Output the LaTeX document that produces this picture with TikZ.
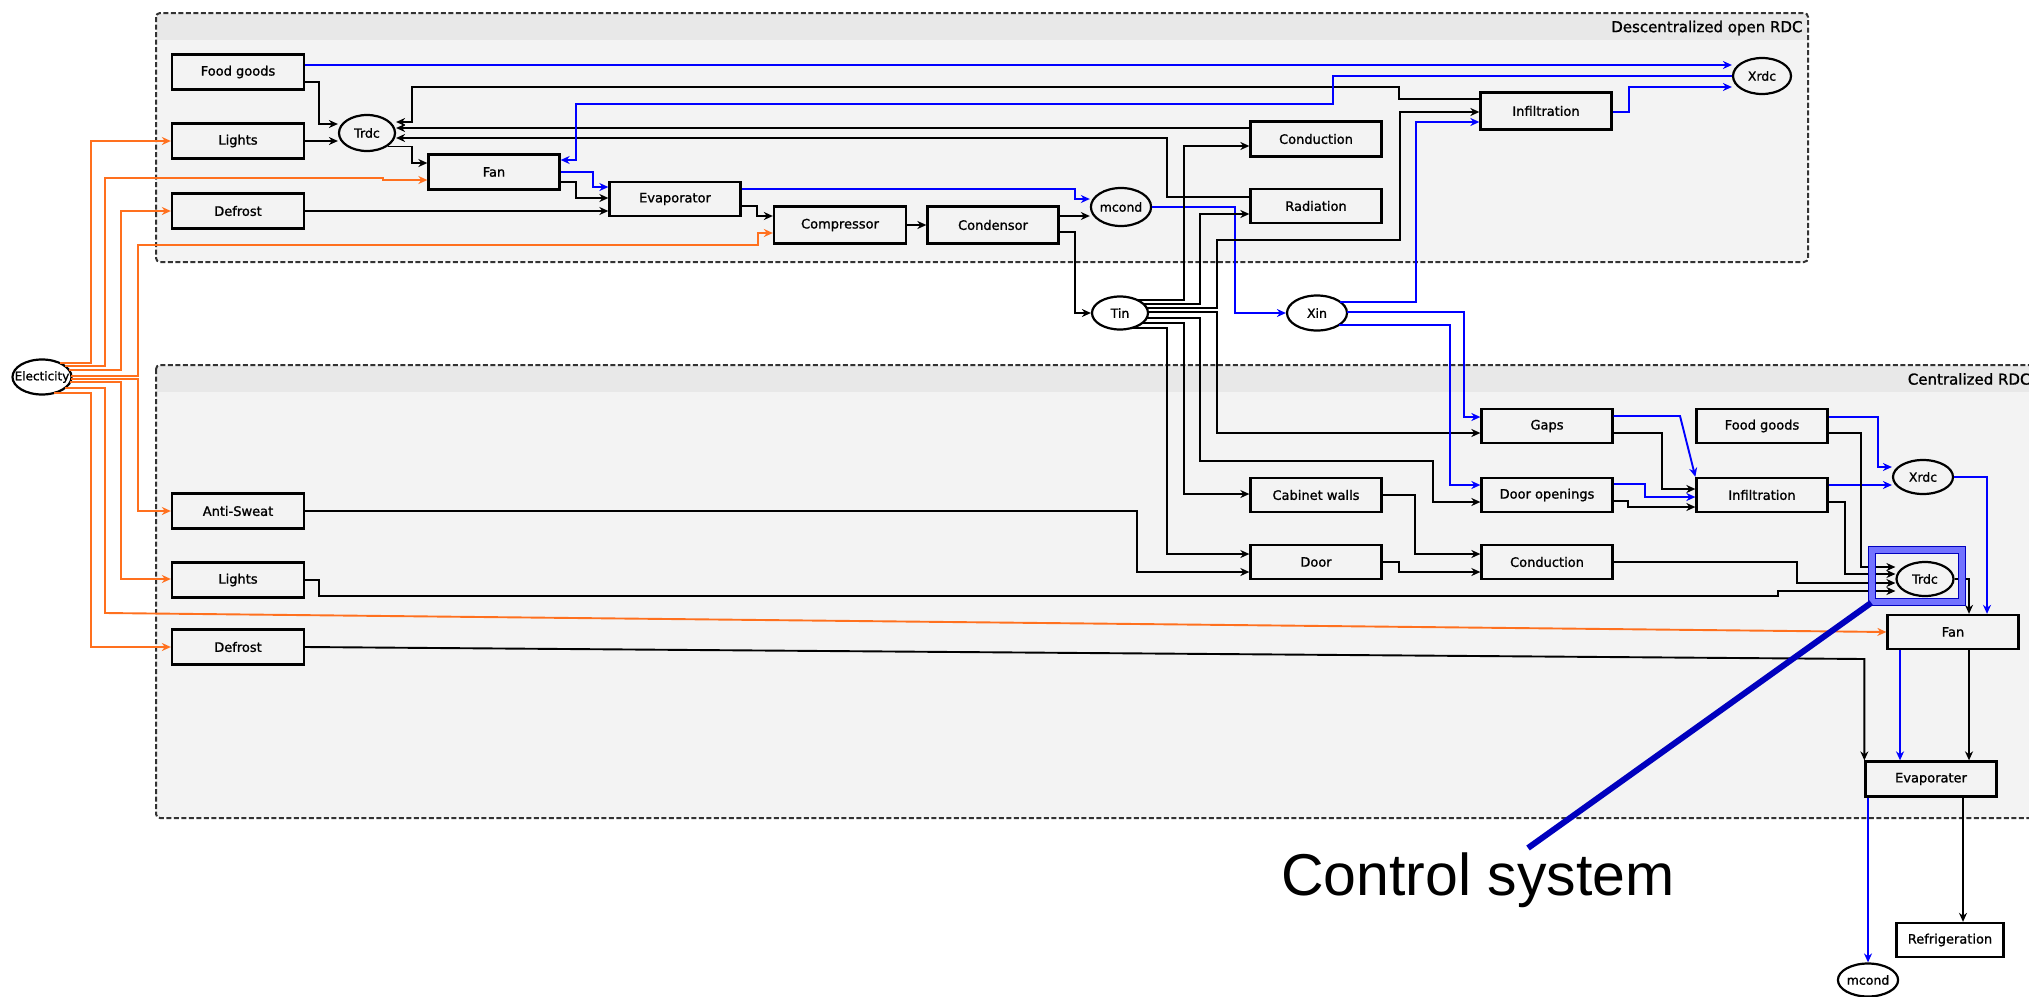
\documentclass[tikz,border=0pt]{standalone}
\usepackage{fontspec}
\newfontfamily\dvs[FakeBold=1.2]{DejaVu Sans}
\newfontfamily\arialf{Liberation Sans}
\usetikzlibrary{arrows.meta,calc,shapes.geometric}
\definecolor{panelfill}{HTML}{F3F3F3}
\definecolor{bandfill}{HTML}{E8E8E8}
\definecolor{orng}{RGB}{255,112,30}
\definecolor{ctrlblue}{RGB}{0,0,190}
\begin{document}
\begin{tikzpicture}[x=1pt,y=-1pt,
  box/.style={draw=black,line width=2.3pt,fill=panelfill,minimum width=132pt,minimum height=35pt,inner sep=0pt,font=\dvs\fontsize{13}{15}\selectfont},
  ell/.style={draw=black,line width=2.2pt,fill=panelfill,ellipse,minimum width=58pt,minimum height=36pt,inner sep=0pt,font=\dvs\fontsize{12.5}{14}\selectfont},
  conn/.style={line width=1.9pt,-{Stealth[length=9pt,width=8pt]}},
  blk/.style={conn,draw=black},
  blu/.style={conn,draw=blue},
  org/.style={conn,draw=orng},
  panelborder/.style={draw=black!80,line width=2pt,dash pattern=on 5pt off 2.5pt,rounded corners=4pt},
  paneltitle/.style={anchor=east,font=\dvs\fontsize{15}{17}\selectfont},
]
\useasboundingbox (0,0) rectangle (2029,996);
% panels
\fill[panelfill,rounded corners=4pt] (156,13) rectangle (1808,262);
\fill[bandfill] (157,14) rectangle (1807,40);
\draw[panelborder] (156,13) rectangle (1808,262);
\node[paneltitle] (t1) at (1806,28) {Descentralized open RDC};
\fill[panelfill,rounded corners=4pt] (156,365) rectangle (2060,818);
\fill[bandfill] (157,366) rectangle (2059,392);
\draw[panelborder] (156,365) rectangle (2060,818);
\node[paneltitle] (t2) at (2034,379) {Centralized RDC};

% top nodes
\node[box] (fg1) at (238,72) {Food goods};
\node[box] (lt1) at (238,141) {Lights};
\node[box] (df1) at (238,211) {Defrost};
\node[ell,minimum width=56pt] (trdc1) at (367,133) {Trdc};
\node[box,minimum width=131pt] (fan1) at (494,172) {Fan};
\node[box,minimum width=131pt,minimum height=34pt] (evap1) at (675,199) {Evaporator};
\node[box,minimum height=37pt] (comp) at (840,225) {Compressor};
\node[box,minimum width=131pt,minimum height=37pt] (cnd) at (993,225) {Condensor};
\node[ell,minimum width=59pt,minimum height=38pt] (mc1) at (1121,207) {mcond};
\node[box,minimum width=131pt] (cond1) at (1316,139) {Conduction};
\node[box,minimum width=131pt,minimum height=34pt] (rad) at (1316,206) {Radiation};
\node[box,minimum width=131pt,minimum height=37pt] (inf1) at (1546,111) {Infiltration};
\node[ell] (xrdc1) at (1762,76) {Xrdc};

% middle nodes
\node[ell,fill=white,minimum width=59pt,minimum height=35pt] (elec) at (42,377) {\makebox[0pt]{\fontsize{12}{14}\selectfont Electicity}};
\node[ell,fill=white,minimum width=56pt,minimum height=33pt] (tin) at (1120,313) {Tin};
\node[ell,fill=white,minimum width=60pt,minimum height=35pt] (xin) at (1317,313) {Xin};

% bottom nodes
\node[box] (as) at (238,511) {Anti-Sweat};
\node[box] (lt2) at (238,580) {Lights};
\node[box] (df2) at (238,647) {Defrost};
\node[box,minimum width=131pt,minimum height=34pt] (gaps) at (1547,426) {Gaps};
\node[box,minimum width=131pt,minimum height=34pt] (dop) at (1547,495) {Door openings};
\node[box,minimum width=131pt,minimum height=34pt] (cw) at (1316,495) {Cabinet walls};
\node[box,minimum width=131pt,minimum height=34pt] (door) at (1316,562) {Door};
\node[box,minimum width=131pt,minimum height=34pt] (cond2) at (1547,562) {Conduction};
\node[box,minimum width=131pt,minimum height=34pt] (fg2) at (1762,426) {Food goods};
\node[box,minimum width=131pt,minimum height=34pt] (inf2) at (1762,495) {Infiltration};
\node[ell,minimum width=60pt,minimum height=34pt] (xrdc2) at (1923,477) {Xrdc};
\node[ell,minimum width=57pt,minimum height=34pt] (trdc2) at (1925,579) {Trdc};
\node[box,minimum width=131pt,minimum height=34pt] (fan2) at (1953,632) {Fan};
\node[box,minimum width=131pt,minimum height=35pt] (evap2) at (1931,779) {Evaporater};
\node[box,fill=white,minimum width=107pt,minimum height=34pt] (refr) at (1950,940) {Refrigeration};
\node[ell,fill=white,minimum width=59pt,minimum height=33pt] (mc2) at (1868,980) {mcond};

% top edges
\draw[blu] (fg1.east |- 0,65) -- (xrdc1.west |- 0,65);
\draw[blk] (fg1.east |- 0,82) -| (319,124) -- (trdc1.west |- 0,124);
\draw[blk] (lt1.east) -- (trdc1.west |- lt1.east);
\draw[blk] (trdc1.south east) -| (412,163) -- (fan1.west |- 0,163);
\draw[blk] (inf1.west |- 0,99) -| (1399,87) -- (412,87) |- (trdc1.east |- 0,122);
\draw[blk] (cond1.west |- 0,128) -- (trdc1.east |- 0,128);
\draw[blk] (rad.west |- 0,197) -| (1167,138) -- (trdc1.east |- 0,138);
\draw[blu] (xrdc1.west) -| (1333,104) -- (576,104) |- (fan1.east |- 0,160);
\draw[blu] (fan1.east |- 0,172) -| (593,187) -- (evap1.west |- 0,187);
\draw[blk] (fan1.east |- 0,182) -| (576,198) -- (evap1.west |- 0,198);
\draw[blk] (df1.east) -- (evap1.west |- df1.east);
\draw[blu] (evap1.east |- 0,189) -| (1075,199) -- (mc1.west |- 0,199);
\draw[blk] (evap1.east |- 0,206) -| (757,216) -- (comp.west |- 0,216);
\draw[blk] (comp.east) -- (cnd.west);
\draw[blk] (cnd.east |- 0,216) -- (mc1.west |- 0,216);
\draw[blk] (cnd.east |- 0,232) -| (1075,313) -- (tin.west);
\draw[blu] (mc1.east) -| (1235,313) -- (xin.west);
\draw[blk] ($(tin.center)+(17,-13)$) -| (1184,146) -- (cond1.west |- 0,146);
\draw[blk] ($(tin.center)+(23,-9)$) -| (1200,214) -- (rad.west |- 0,214);
\draw[blk] ($(tin.center)+(27,-5)$) -| (1217,240) -| (1400,112) -- (inf1.west |- 0,112);
\draw[blu] ($(xin.center)+(23,-11)$) -| (1416,122) -- (inf1.west |- 0,122);
\draw[blu] (inf1.east |- 0,112) -| (1629,87) -- (xrdc1.west |- 0,87);

% Tin / Xin downwards
\draw[blk] ($(tin.center)+(28,-1)$) -| (1217,433) -- (gaps.west |- 0,433);
\draw[blk] ($(tin.center)+(27,5)$) -| (1200,461) -| (1433,502) -- (dop.west |- 0,502);
\draw[blk] ($(tin.center)+(22,10)$) -| (1184,494) -- (cw.west |- 0,494);
\draw[blk] ($(tin.center)+(12,15)$) -| (1167,554) -- (door.west |- 0,554);
\draw[blu] ($(xin.center)+(30,-1)$) -| (1464,417) -- (gaps.west |- 0,417);
\draw[blu] ($(xin.center)+(22,12)$) -| (1450,485) -- (dop.west |- 0,485);

% bottom edges
\draw[blk] (as.east) -| (1137,572) -- (door.west |- 0,572);
\draw[blk] (cw.east) -| (1415,554) -- (cond2.west |- 0,554);
\draw[blk] (door.east) -| (1399,572) -- (cond2.west |- 0,572);
\draw[blu] (gaps.east |- 0,416) -- (1680,416) -- (inf2.north west);
\draw[blk] (gaps.east |- 0,433) -| (1662,489) -- (inf2.west |- 0,489);
\draw[blu] (dop.east |- 0,484) -| (1645,497) -- (inf2.west |- 0,497);
\draw[blk] (dop.east |- 0,501) -| (1628,507) -- (inf2.west |- 0,507);
\draw[blu] (fg2.east |- 0,417) -| (1878,467) -- (xrdc2.west |- 0,467);
\draw[blu] (inf2.east |- 0,485) -- (xrdc2.west |- 0,485);
\draw[blk] (fg2.east |- 0,433) -| (1861,567) -- (trdc2.west |- 0,567);
\draw[blk] (inf2.east |- 0,502) -| (1845,574) -- (trdc2.west |- 0,574);
\draw[blk] (cond2.east) -| (1797,583) -- (trdc2.west |- 0,583);
\draw[blk] (lt2.east) -| (319,596) -- (1778,596) -- (1778,591) -- (trdc2.west |- 0,591);
\draw[blu] (xrdc2.east) -| (fan2.north -| 1987,0);
\draw[blk] (trdc2.east) -| (fan2.north -| 1969,0);
\draw[blk] (df2.east) -- (evap2.north west |- 0,659) -- (evap2.north west);
\draw[blu] (fan2.south -| 1900,0) -- (evap2.north -| 1900,0);
\draw[blk] (fan2.south -| 1969,0) -- (evap2.north -| 1969,0);
\draw[blk] (evap2.south -| 1963,0) -- (refr.north -| 1963,0);
\draw[blu] (evap2.south -| 1868,0) -- (mc2.north);

% electricity
\draw[org] ($(elec.center)+(18,-14)$) -| (91,141) -- (lt1.west);
\draw[org] ($(elec.center)+(23,-11)$) -| (105,178) -- (383,178) -- (383,180) -- (fan1.west |- 0,180);
\draw[org] ($(elec.center)+(27,-7)$) -| (121,211) -- (df1.west);
\draw[org] ($(elec.center)+(29,-1)$) -| (138,245) -| (758,233) -- (comp.west |- 0,233);
\draw[org] ($(elec.center)+(29,2)$) -| (138,511) -- (as.west);
\draw[org] ($(elec.center)+(28,5)$) -| (121,579) -- (lt2.west |- 0,579);
\draw[org] ($(elec.center)+(23,11)$) -| (105,613) -- (fan2.west);
\draw[org] ($(elec.center)+(12,16)$) -| (91,647) -- (df2.west);

% control system highlight
\node[draw=ctrlblue,line width=1.6pt,double=blue!55,double distance=5.5pt,minimum width=90pt,minimum height=52pt,inner sep=0pt] (hl) at (1917,576) {};
\coordinate (ctrlend) at (1528,848);
\draw[ctrlblue,line width=6pt] (hl.south west) -- (ctrlend);
\node[font=\arialf\fontsize{59}{70}\selectfont,anchor=base] (ctext) at (1478,895) {Control system};
\end{tikzpicture}
\end{document}
